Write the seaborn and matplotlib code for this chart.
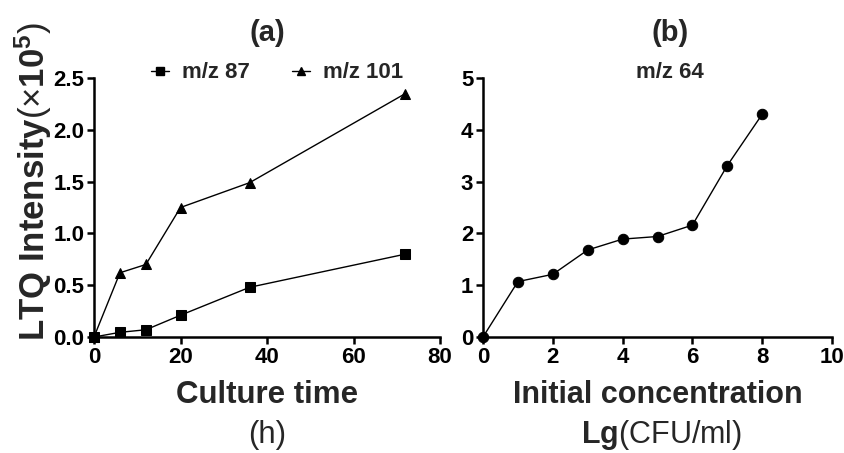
import numpy as np
import pandas as pd
import matplotlib
matplotlib.use("Agg")
import matplotlib.pyplot as plt
import seaborn as sns
from matplotlib.lines import Line2D

# ---- data ----
time_h = [0, 6, 12, 20, 36, 72]
mz87 = [0.0, 0.045, 0.07, 0.21, 0.48, 0.80]
mz101 = [0.0, 0.62, 0.70, 1.25, 1.49, 2.35]
series_names = ["m/z 87", "m/z 101"]

conc_lg = [0, 1, 2, 3, 4, 5, 6, 7, 8]
mz64 = [0.0, 1.07, 1.21, 1.68, 1.89, 1.94, 2.16, 3.31, 4.30]

a_yticks = [0.0, 0.5, 1.0, 1.5, 2.0, 2.5]
a_xticks = [0, 20, 40, 60, 80]
b_yticks = [0, 1, 2, 3, 4, 5]
b_xticks = [0, 2, 4, 6, 8, 10]

sns.set_theme(style="ticks")
plt.rcParams['font.family'] = ['Liberation Sans', 'DejaVu Sans']
plt.rcParams['mathtext.fontset'] = 'custom'
plt.rcParams['mathtext.rm'] = 'Liberation Sans'
plt.rcParams['mathtext.bf'] = 'Liberation Sans:bold'
plt.rcParams['mathtext.it'] = 'Liberation Sans:italic'

W, H = 844, 453
fig = plt.figure(figsize=(W / 100, H / 100), dpi=100)
ax1 = fig.add_axes([94 / W, 116 / H, 346 / W, 259 / H])
ax2 = fig.add_axes([483 / W, 116 / H, 349 / W, 259 / H])

dfa = pd.DataFrame({
    "time": time_h * 2,
    "val": mz87 + mz101,
    "series": [series_names[0]] * len(time_h) + [series_names[1]] * len(time_h),
})
sns.lineplot(data=dfa, x="time", y="val", style="series",
             markers={series_names[0]: "s", series_names[1]: "^"},
             dashes=False, color="black", lw=1.0, markersize=7,
             markeredgecolor="black", ax=ax1, legend=False, clip_on=False)

dfb = pd.DataFrame({"conc": conc_lg, "val": mz64})
sns.lineplot(data=dfb, x="conc", y="val", marker="o", color="black", lw=1.0,
             markersize=7.5, markeredgecolor="black", ax=ax2, clip_on=False)

for ax in (ax1, ax2):
    sns.despine(ax=ax)
    for s in ("left", "bottom"):
        ax.spines[s].set_linewidth(1.8)
        ax.spines[s].set_color("black")
    ax.tick_params(direction="out", length=5, width=1.8, colors="black",
                   labelsize=16, pad=2)

ax1.set_xlim(0, 80)
ax1.set_ylim(0, 2.5)
ax1.set_xticks(a_xticks)
ax1.set_yticks(a_yticks)
ax1.set_yticklabels([f"{v:.1f}" for v in a_yticks], fontweight="bold")
ax1.set_xticklabels([str(v) for v in a_xticks], fontweight="bold")

ax2.set_xlim(0, 10)
ax2.set_ylim(0, 5)
ax2.set_xticks(b_xticks)
ax2.set_yticks(b_yticks)
ax2.set_yticklabels([str(v) for v in b_yticks], fontweight="bold")
ax2.set_xticklabels([str(v) for v in b_xticks], fontweight="bold")

ax1.set_xlabel("")
ax1.set_ylabel("")
ax2.set_xlabel("")
ax2.set_ylabel("")

fig.text(33 / W, 1 - 182 / H, r"LTQ Intensity$\mathrm{(\times}\mathbf{10^{5}}\mathrm{)}$",
         rotation=90, ha="center", va="center", fontsize=25, fontweight="bold")

fig.text(267 / W, 1 - 395 / H, "Culture time", ha="center", va="center",
         fontsize=22.5, fontweight="bold")
fig.text(267 / W, 1 - 435 / H, "(h)", ha="center", va="center", fontsize=22.5)

fig.text(658 / W, 1 - 395 / H, "Initial concentration", ha="center", va="center",
         fontsize=22, fontweight="bold")
fig.text(662 / W, 1 - 435 / H, r"$\mathbf{Lg}$(CFU/ml)", ha="center", va="center",
         fontsize=22)

fig.text(267 / W, 1 - 33 / H, "(a)", ha="center", va="center", fontsize=21, fontweight="bold")
fig.text(670 / W, 1 - 33 / H, "(b)", ha="center", va="center", fontsize=21, fontweight="bold")
fig.text(670 / W, 1 - 73 / H, "m/z 64", ha="center", va="center", fontsize=16, fontweight="bold")

handles = [Line2D([], [], color="black", lw=1.0, marker="s", markersize=6),
           Line2D([], [], color="black", lw=1.0, marker="^", markersize=6)]
ax1.legend(handles, series_names, ncol=2, loc="center",
           bbox_to_anchor=(277 / W, 1 - 73 / H), bbox_transform=fig.transFigure,
           frameon=False, handlelength=0.8, handletextpad=0.6, columnspacing=1.9,
           prop={"size": 16, "weight": "bold"})

fig.savefig("out.png", dpi=100)
